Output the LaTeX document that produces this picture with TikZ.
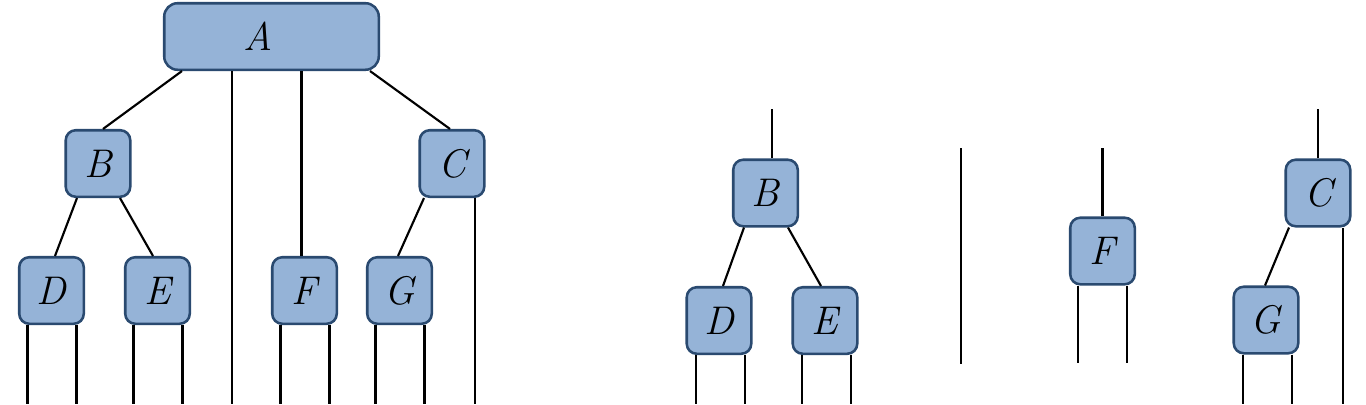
\documentclass[tikz,border=0pt]{standalone}
\usetikzlibrary{calc}
\definecolor{boxfill}{HTML}{95B3D7}
\definecolor{boxline}{HTML}{2A4A70}
\begin{document}
\begin{tikzpicture}[x=0.75pt,y=-0.75pt]
\tikzset{wire/.style={black,line width=1.6pt}}

\tikzset{treenode/.style={
rectangle,draw=boxline,fill=boxfill,
line width=1.9pt,rounded corners=7.5pt,
minimum width=48.4pt,
minimum height=49.9pt,
inner sep=0pt,
font=\fontsize{30}{35}\selectfont\itshape}}

\tikzset{treenodeWide/.style={
treenode,rounded corners=10pt,
minimum width=160.9pt}}

\useasboundingbox (0,0) rectangle (1366,404);

\path
(0,404) coordinate (floor)
(0,363) coordinate (floorF)
(0,109) coordinate (ceil)
(0,148) coordinate (ceilF);

% left: the whole tree
\draw
(271.5,36.5) node[treenodeWide,name=treeA] {A\kern19.5pt}
(98,163.5) node[treenode,name=treeB] {B}
(452,163.5) node[treenode,name=treeC] {C}
(51.5,290.5) node[treenode,name=treeD] {D}
(157.5,290.5) node[treenode,name=treeE] {E}
(304.5,290.5) node[treenode,name=treeF] {F}
(399.5,290.5) node[treenode,name=treeG] {G};

\draw[wire] ($(treeA.south west)+(19,0)$) -- ($(treeB.north)+(5,0)$);
\draw[wire] ($(treeA.south)+(-39.5,0)$) coordinate (aLeg) -- (aLeg |- floor);
\draw[wire] ($(treeA.south)+(30,0)$) coordinate (aF) -- (aF |- treeF.north);
\draw[wire] ($(treeA.south east)+(-10,0)$) -- ($(treeC.north)+(-2,0)$);

\draw[wire] ($(treeB.south)+(-21,0)$) -- ($(treeD.north)+(3.5,0)$);
\draw[wire] ($(treeB.south)+(22,0)$) -- ($(treeE.north)+(-4.5,0)$);
\draw[wire] ($(treeC.south)+(-28,0)$) -- ($(treeG.north)+(-1.5,0)$);
\draw[wire] ($(treeC.south)+(23,0)$) coordinate (cLeg) -- (cLeg |- floor);

\foreach \n in {treeD,treeE,treeF,treeG}{
\draw[wire] ($(\n.south)+(-24,0)$) coordinate (leg) -- (leg |- floor);
\draw[wire] ($(\n.south)+(25,0)$) coordinate (leg) -- (leg |- floor);
}

% right: the pieces
\draw
(765.5,193) node[treenode,name=partB] {B}
(719,320.5) node[treenode,name=partD] {D}
(825,320.5) node[treenode,name=partE] {E}
(1102.5,251) node[treenode,name=partF] {F}
(1318,193) node[treenode,name=partC] {C}
(1266,320) node[treenode,name=partG] {G};

\draw[wire] ($(partB.north)+(6.5,0)$) coordinate (bTop) -- (bTop |- ceil);
\draw[wire] ($(partB.south)+(-21.5,0)$) -- ($(partD.north)+(4,0)$);
\draw[wire] ($(partB.south)+(22.5,0)$) -- ($(partE.north)+(-4,0)$);

\draw[wire] (961,148) coordinate (loneTop) -- (961,364) coordinate (loneBot);

\draw[wire] (partF.north) -- (partF.north |- ceilF);
\draw[wire] ($(partF.south)+(-24.5,0)$) coordinate (leg) -- (leg |- floorF);
\draw[wire] ($(partF.south)+(24.5,0)$) coordinate (leg) -- (leg |- floorF);

\draw[wire] (partC.north) -- (partC.north |- ceil);
\draw[wire] ($(partC.south)+(-29,0)$) -- ($(partG.north)+(-1,0)$);
\draw[wire] ($(partC.south)+(25,0)$) coordinate (cLeg) -- (cLeg |- floor);

\foreach \n in {partD,partE,partG}{
\draw[wire] ($(\n.south)+(-23,0)$) coordinate (leg) -- (leg |- floor);
\draw[wire] ($(\n.south)+(26,0)$) coordinate (leg) -- (leg |- floor);
}

\end{tikzpicture}
\end{document}
